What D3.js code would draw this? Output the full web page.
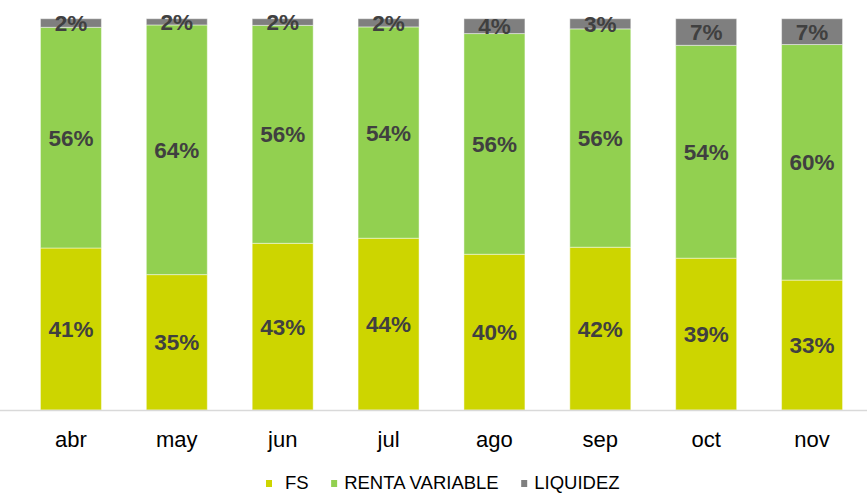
<!DOCTYPE html>
<html>
<head>
<meta charset="utf-8">
<script src="https://cdn.jsdelivr.net/npm/d3@7"></script>
<style>
  body { margin: 0; background: #fff; }
  svg { display: block; font-family: "Liberation Sans", Arial, sans-serif; }
</style>
</head>
<body>
<svg id="chart" width="867" height="493"></svg>
<script>
// months on the x axis
var months = ['abr', 'may', 'jun', 'jul', 'ago', 'sep', 'oct', 'nov'];
// share of each asset class, in %
var fs = [41.4, 34.6, 42.6, 43.9, 39.8, 41.6, 38.8, 33.2];
var rentaVariable = [56.4, 63.8, 55.7, 54.0, 56.4, 55.8, 54.4, 60.2];
var liquidez = [2.2, 1.6, 1.7, 2.1, 3.8, 2.6, 6.8, 6.6];
var seriesNames = ['FS', 'RENTA VARIABLE', 'LIQUIDEZ'];
var seriesColors = ['#cdd500', '#92d050', '#7f7f7f'];

var svg = d3.select('#chart');
var width = 867, height = 493;
var plot = {left: 18, right: 865, top: 18.7, bottom: 410};

// build rows for the stack
var rows = months.map(function (m, i)
{
	return {month: m, 'FS': fs[i], 'RENTA VARIABLE': rentaVariable[i], 'LIQUIDEZ': liquidez[i]};
});
var stacked = d3.stack().keys(seriesNames)(rows);

var x = d3.scaleBand()
	.domain(months)
	.range([plot.left, plot.right])
	.paddingInner(0.424)
	.paddingOuter(0.212);
var y = d3.scaleLinear().domain([0, 100]).range([plot.bottom, plot.top]);
var color = d3.scaleOrdinal().domain(seriesNames).range(seriesColors);

// bars
var layers = svg.append('g').selectAll('g.layer')
	.data(stacked)
	.enter().append('g')
	.attr('class', 'layer')
	.attr('fill', function (d) { return color(d.key); });

layers.selectAll('rect')
	.data(function (d) { return d; })
	.enter().append('rect')
	.attr('x', function (d) { return x(d.data.month); })
	.attr('y', function (d) { return y(d[1]); })
	.attr('width', x.bandwidth())
	.attr('height', function (d) { return y(d[0]) - y(d[1]); })
	.attr('stroke', 'rgba(255,255,255,0.45)')
	.attr('stroke-width', 1);

// x axis
var xAxis = d3.axisBottom(x).tickSize(0).tickPadding(21);
var axisG = svg.append('g')
	.attr('transform', 'translate(0,' + (plot.bottom + 0.5) + ')')
	.call(xAxis);
axisG.select('.domain').attr('d', 'M0,0H' + width).attr('stroke', '#d9d9d9').attr('stroke-width', 1.5);
axisG.selectAll('text')
	.attr('fill', '#000')
	.style('font-size', '22px')
	.style('font-family', '"Liberation Sans", Arial, sans-serif');

// data labels, centred in each segment
layers.selectAll('text.val')
	.data(function (d) { return d; })
	.enter().append('text')
	.attr('class', 'val')
	.attr('x', function (d) { return x(d.data.month) + x.bandwidth() / 2; })
	.attr('y', function (d) { return (y(d[0]) + y(d[1])) / 2; })
	.attr('dy', '0.36em')
	.attr('text-anchor', 'middle')
	.attr('fill', '#404040')
	.style('font-size', '22.5px')
	.style('font-weight', 'bold')
	.text(function (d) { return Math.round(d[1] - d[0]) + '%'; });

// legend
var legend = svg.append('g').attr('transform', 'translate(266,489)');
var lx = 0;
seriesNames.forEach(function (name)
{
	var off = name === 'FS' ? 19 : 13;
	var item = legend.append('g').attr('transform', 'translate(' + lx + ',0)');
	item.append('rect')
		.attr('x', 0).attr('y', -9)
		.attr('width', 6).attr('height', 7)
		.attr('fill', color(name));
	var t = item.append('text')
		.attr('x', off)
		.attr('y', 0)
		.attr('fill', '#000')
		.style('font-size', '18.5px')
		.text(name);
	lx += off + t.node().getComputedTextLength() + 22.5;
});
</script>
</body>
</html>
